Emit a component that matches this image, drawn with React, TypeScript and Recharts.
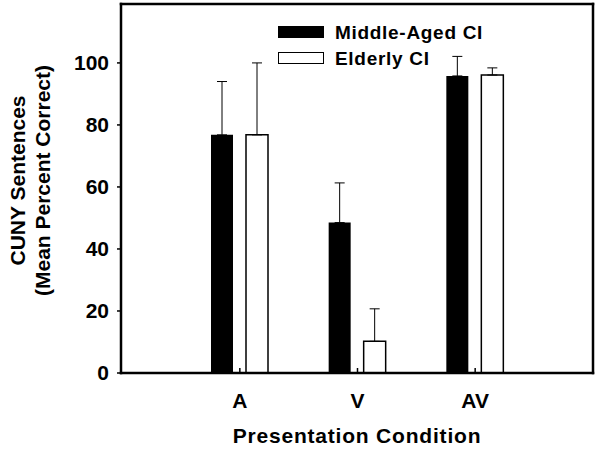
import React from 'react';
import {
  BarChart, Bar, XAxis, YAxis, ErrorBar, Legend
} from 'recharts';

const FONT = '"Liberation Sans", Arial, Helvetica, sans-serif';

// values (mean percent correct, upper SD)
const conditions = ['A', 'V', 'AV'];
const middleAged = [76.8, 48.5, 95.8];
const middleAgedSd = [17.2, 12.8, 6.3];
const elderly = [76.8, 10.2, 96.1];
const elderlySd = [23.2, 10.5, 2.3];
const yTicks = [0, 20, 40, 60, 80, 100];
const seriesOrder = ['middle', 'elderly'];

const data = conditions.map((c, i) => ({
  condition: c,
  middle: middleAged[i],
  middleErr: [0, middleAgedSd[i]],
  elderly: elderly[i],
  elderlyErr: [0, elderlySd[i]],
}));

const swatchStyle: Record<string, React.CSSProperties> = {
  middle: { background: '#000', height: 12 },
  elderly: { background: '#fff', border: '1.5px solid #000', height: 12 },
};

const LegendBox = (props: any) => {
  const items = [...(props.payload || [])].sort(
    (a: any, b: any) => seriesOrder.indexOf(a.dataKey) - seriesOrder.indexOf(b.dataKey)
  );
  return (
    <div style={{ fontFamily: FONT, fontWeight: 'bold', fontSize: 19, letterSpacing: 0.7, color: '#000' }}>
      {items.map((entry: any) => (
        <div key={entry.value} style={{ display: 'flex', alignItems: 'center', height: 26 }}>
          <div style={{ width: 46, boxSizing: 'border-box', ...swatchStyle[entry.dataKey] }} />
          <span style={{ marginLeft: 11, lineHeight: 1, whiteSpace: 'nowrap' }}>{entry.value}</span>
        </div>
      ))}
    </div>
  );
};

const YTitle = (props: any) => {
  const vb = props.viewBox || { x: 0, y: 4, width: 121, height: 369 };
  const cy = vb.y + vb.height / 2 - 8;
  const lines = ['CUNY Sentences', '(Mean Percent Correct)'];
  const xs = [vb.x + 17, vb.x + 42];
  return (
    <g>
      {lines.map((t, i) => (
        <text
          key={t}
          x={xs[i]}
          y={cy}
          transform={`rotate(-90 ${xs[i]} ${cy})`}
          textAnchor="middle"
          dominantBaseline="central"
          fontFamily={FONT}
          fontWeight="bold"
          fontSize={21}
          fill="#000"
        >
          {t}
        </text>
      ))}
    </g>
  );
};

const axisLine = { stroke: '#000', strokeWidth: 2.5, strokeLinecap: 'square' as const };
const tickLine = { stroke: '#000', strokeWidth: 1.5 };
const tickFont = { fill: '#000', fontSize: 21, fontWeight: 'bold', fontFamily: FONT };

export default function App() {
  return (
    <div style={{ position: 'absolute', left: 0, top: 0, background: '#fff' }}>
      <BarChart
        width={600}
        height={451}
        data={data}
        margin={{ top: 0, right: 0, bottom: 48, left: 0 }}
        barGap={13}
      >
        <XAxis
          dataKey="condition"
          type="category"
          height={30}
          padding={{ left: 60, right: 59 }}
          axisLine={axisLine}
          tickLine={tickLine}
          tickSize={-5}
          tickMargin={25}
          tick={tickFont}
          label={{
            value: 'Presentation Condition',
            position: 'bottom',
            offset: 25,
            fill: '#000',
            fontSize: 21,
            fontWeight: 'bold',
            fontFamily: FONT,
            style: { letterSpacing: 0.8 },
          }}
        />
        <XAxis
          xAxisId="top"
          dataKey="condition"
          type="category"
          orientation="top"
          height={4}
          padding={{ left: 60, right: 59 }}
          axisLine={axisLine}
          tickLine={tickLine}
          tickSize={-5}
          tick={false}
        />
        <YAxis
          type="number"
          domain={[0, 119]}
          ticks={yTicks}
          width={121}
          axisLine={axisLine}
          tickLine={tickLine}
          tickSize={4}
          tickMargin={8}
          tick={tickFont}
          label={YTitle}
        />
        <YAxis
          yAxisId="right"
          orientation="right"
          type="number"
          domain={[0, 119]}
          ticks={yTicks}
          width={7}
          axisLine={axisLine}
          tickLine={tickLine}
          tickSize={-5}
          tick={false}
        />
        <Legend
          layout="vertical"
          align="center"
          verticalAlign="middle"
          wrapperStyle={{ left: 278, top: 19, width: 260 }}
          content={LegendBox}
        />
        <Bar dataKey="middle" name="Middle-Aged CI" fill="#000" barSize={22} isAnimationActive={false}>
          <ErrorBar dataKey="middleErr" width={5} stroke="#000" strokeWidth={1} direction="y" isAnimationActive={false} />
        </Bar>
        <Bar dataKey="elderly" name="Elderly CI" fill="#fff" stroke="#000" strokeWidth={1.5} barSize={22} isAnimationActive={false}>
          <ErrorBar dataKey="elderlyErr" width={5} stroke="#000" strokeWidth={1} direction="y" isAnimationActive={false} />
        </Bar>
      </BarChart>
    </div>
  );
}
